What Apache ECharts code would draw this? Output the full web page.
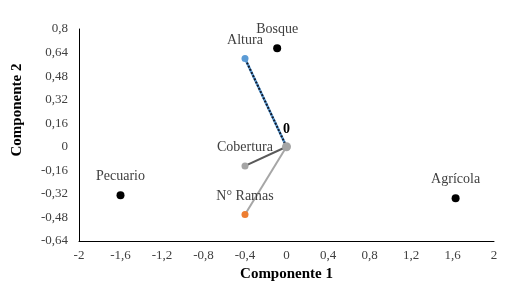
<!DOCTYPE html>
<html>
<head>
<meta charset="utf-8">
<script src="https://cdn.jsdelivr.net/npm/echarts@6/dist/echarts.min.js"></script>
<style>
html, body { margin: 0; padding: 0; background: #fff; }
#main { width: 513px; height: 290px; }
</style>
</head>
<body>
<div id="main"></div>
<script>
var chartDom = document.getElementById('main');
var myChart = echarts.init(chartDom);
var option;

// groups (black points)
var groupNames = ['Bosque', 'Pecuario', 'Agrícola'];
var groupX = [-0.09, -1.60, 1.63];
var groupY = [0.67, -0.33, -0.35];

// variable vectors from the origin
var varNames = ['Altura', 'Cobertura', 'N° Ramas'];
var varX = [-0.40, -0.40, -0.40];
var varY = [0.60, -0.13, -0.46];

var fmt = function (v) {
    return String(Math.round(v * 100) / 100).replace('.', ',');
};

var labelFont = {
    fontFamily: 'Liberation Serif',
    fontSize: 14,
    color: '#404040'
};

var groupData = groupNames.map(function (n, i) {
    return { name: n, value: [groupX[i], groupY[i]] };
});

function vector(i, lineColor, pointColor, lineType, width) {
    return {
        name: varNames[i],
        type: 'line',
        symbol: 'circle',
        symbolSize: 7,
        lineStyle: { color: lineColor, width: width, type: lineType },
        itemStyle: { color: pointColor, opacity: 1 },
        z: 3,
        data: [
            { value: [0, 0], symbolSize: 0, label: { show: false } },
            {
                value: [varX[i], varY[i]], name: varNames[i],
                label: Object.assign({
                    show: true, position: 'top', distance: 8,
                    formatter: varNames[i]
                }, labelFont)
            }
        ]
    };
}

option = {
    animation: false,
    grid: {
        left: 79,
        right: 19,
        top: 29,
        bottom: 49
    },
    xAxis: {
        type: 'value',
        min: -2,
        max: 2,
        interval: 0.4,
        name: 'Componente 1',
        nameLocation: 'middle',
        nameGap: 24,
        nameTextStyle: {
            fontFamily: 'Liberation Serif', fontSize: 15, fontWeight: 'bold', color: '#000'
        },
        axisLine: { onZero: false, lineStyle: { color: '#000', width: 1 } },
        axisTick: { show: false },
        splitLine: { show: false },
        axisLabel: {
            formatter: fmt, margin: 8,
            fontFamily: 'Liberation Serif', fontSize: 13, color: '#404040'
        }
    },
    yAxis: {
        type: 'value',
        min: -0.64,
        max: 0.8,
        interval: 0.16,
        name: 'Componente 2',
        nameLocation: 'middle',
        nameGap: 54,
        nameTextStyle: {
            fontFamily: 'Liberation Serif', fontSize: 15, fontWeight: 'bold', color: '#000',
            padding: [0, 0, 0, 50]
        },
        axisLine: { onZero: false, lineStyle: { color: '#000', width: 1 } },
        axisTick: { show: false },
        splitLine: { show: false },
        axisLabel: {
            formatter: fmt, margin: 11,
            fontFamily: 'Liberation Serif', fontSize: 13, color: '#404040'
        }
    },
    series: [
        {
            name: 'Grupos',
            type: 'scatter',
            symbolSize: 8,
            itemStyle: { color: '#000', opacity: 1 },
            label: Object.assign({
                show: true, position: 'top', distance: 8, formatter: '{b}'
            }, labelFont),
            data: groupData
        },
        vector(1, '#595959', '#a5a5a5', 'solid', 2),
        vector(2, '#a6a6a6', '#ed7d31', 'solid', 2),
        {
            name: 'Altura base',
            type: 'line',
            symbol: 'none',
            lineStyle: { color: '#5b9bd5', width: 2.5 },
            z: 2,
            data: [[0, 0], [varX[0], varY[0]]]
        },
        vector(0, '#111a2a', '#5b9bd5', [2, 1.5], 2),
        {
            name: 'Origen',
            type: 'scatter',
            symbolSize: 9,
            itemStyle: { color: '#a5a5a5', opacity: 1 },
            z: 4,
            label: {
                show: true, position: 'top', distance: 6, formatter: '0',
                fontFamily: 'Liberation Serif', fontSize: 14, fontWeight: 'bold', color: '#000'
            },
            data: [[0, 0]]
        }
    ]
};

option && myChart.setOption(option);
</script>
</body>
</html>
